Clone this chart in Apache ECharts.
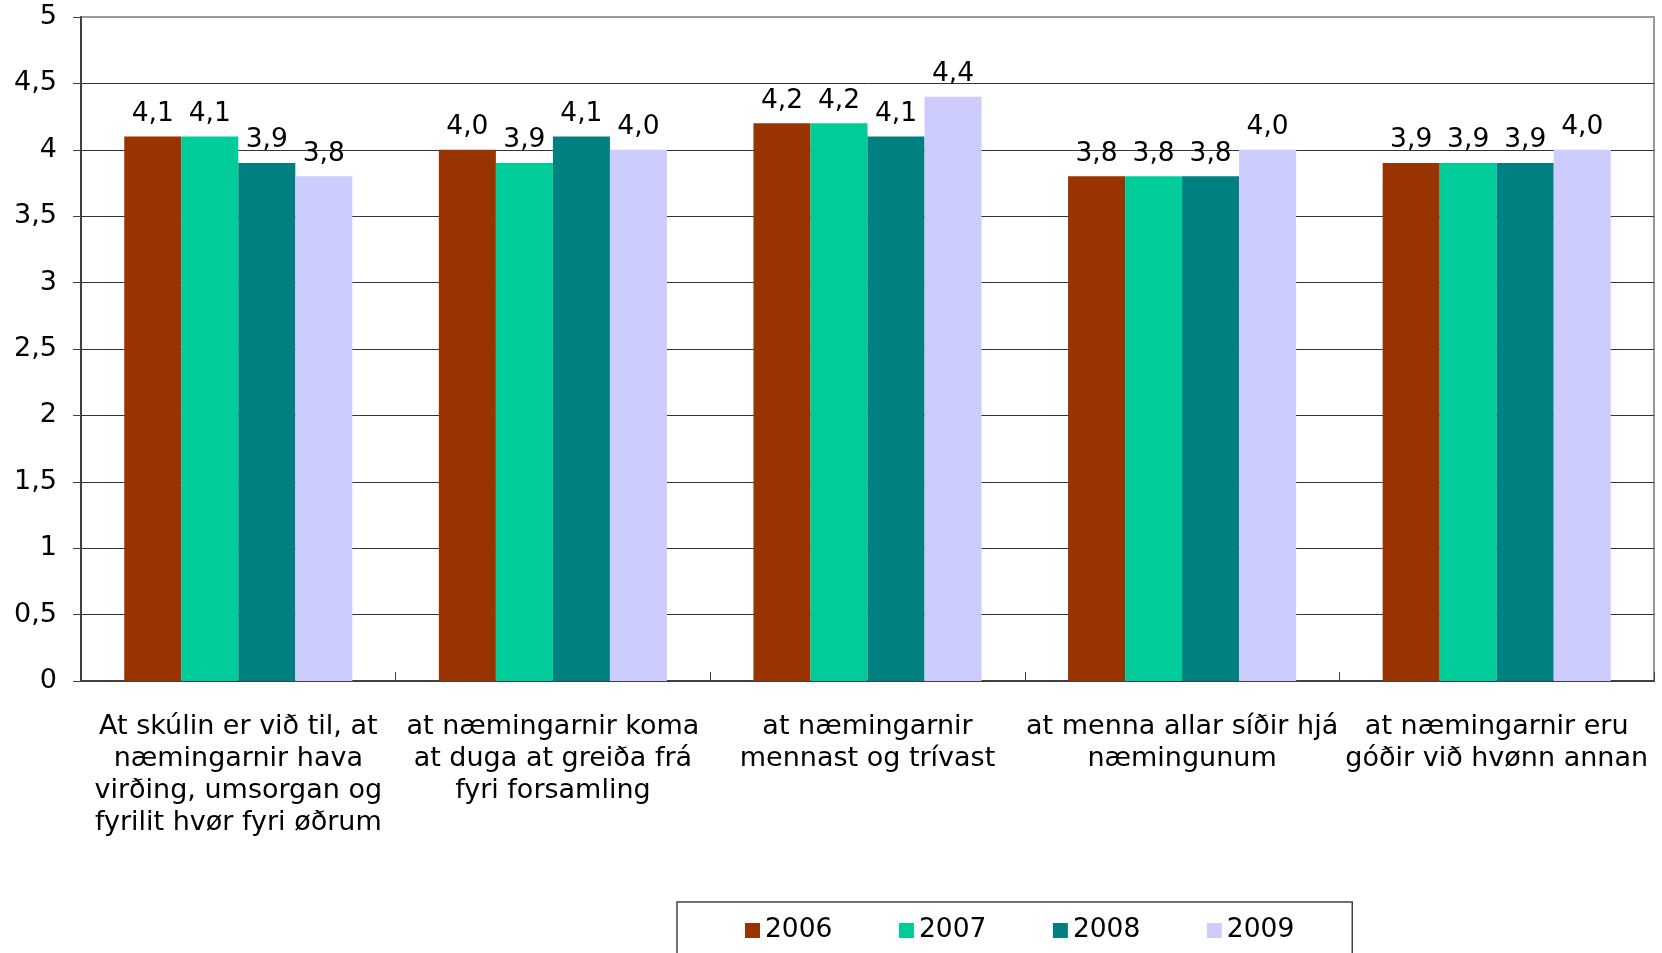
<!DOCTYPE html>
<html>
<head>
<meta charset="utf-8">
<script src="https://cdn.jsdelivr.net/npm/echarts@6/dist/echarts.min.js"></script>
<style>
html,body{margin:0;padding:0;background:#fff;}
#c{width:1662px;height:953px;}
</style>
</head>
<body>
<div id="c"></div>
<script>
var categories = [
  "At skúlin er við til, at\nnæmingarnir hava\nvirðing, umsorgan og\nfyrilit hvør fyri øðrum",
  "at næmingarnir koma\nat duga at greiða frá\nfyri forsamling",
  "at næmingarnir\nmennast og trívast",
  "at menna allar síðir hjá\nnæmingunum",
  "at næmingarnir eru\ngóðir við hvønn annan"
];
var seriesNames = ["2006", "2007", "2008", "2009"];
var v2006 = [4.1, 4.0, 4.2, 3.8, 3.9];
var v2007 = [4.1, 3.9, 4.2, 3.8, 3.9];
var v2008 = [3.9, 4.1, 4.1, 3.8, 3.9];
var v2009 = [3.8, 4.0, 4.4, 4.0, 4.0];
var colors = ["#993300", "#00CC99", "#008080", "#CCCCFF"];
var yTicks = { min: 0, max: 5, interval: 0.5 };

var FONT = "DejaVu Sans";
var values = [v2006, v2007, v2008, v2009];
var series = seriesNames.map(function (n, i) {
  return {
    name: n,
    type: "bar",
    data: values[i],
    barGap: "0%",
    barCategoryGap: "27.5%",
    itemStyle: { color: colors[i] },
    label: {
      show: true,
      position: "top",
      distance: 9,
      color: "#000",
      fontFamily: FONT,
      fontSize: 26.5,
      formatter: function (p) { return p.value.toFixed(1).replace(".", ","); }
    }
  };
});

var chart = echarts.init(document.getElementById("c"), null, { renderer: "canvas" });
chart.setOption({
  animation: false,
  backgroundColor: "#fff",
  grid: {
    left: 81, top: 17, right: 8, bottom: 272,
    show: true, borderColor: "#999", borderWidth: 2, backgroundColor: "transparent"
  },
  legend: {
    data: seriesNames,
    left: 677,
    top: 902,
    padding: [15, 58, 40, 68],
    itemWidth: 15,
    itemHeight: 15,
    itemGap: 66.5,
    icon: "rect",
    borderColor: "#444",
    borderWidth: 1.5,
    textStyle: { fontFamily: FONT, fontSize: 26.5, color: "#000" }
  },
  xAxis: {
    type: "category",
    data: categories,
    axisLine: { lineStyle: { color: "#404040", width: 2 } },
    axisTick: { show: true, inside: true, length: 9, alignWithLabel: false, lineStyle: { color: "#404040", width: 1 } },
    axisLabel: {
      interval: 0,
      margin: 30,
      color: "#000",
      fontFamily: FONT,
      fontSize: 27,
      lineHeight: 32
    }
  },
  yAxis: {
    type: "value",
    min: yTicks.min,
    max: yTicks.max,
    interval: yTicks.interval,
    axisLine: { show: true, lineStyle: { color: "#404040", width: 2 } },
    axisTick: { show: true, length: 8, lineStyle: { color: "#404040", width: 1 } },
    axisLabel: {
      margin: 24,
      color: "#000",
      fontFamily: FONT,
      fontSize: 27,
      formatter: function (v) { return String(v).replace(".", ","); }
    },
    splitLine: { show: true, showMaxLine: false, lineStyle: { color: "#333", width: 1 } }
  },
  series: series
});
</script>
</body>
</html>
